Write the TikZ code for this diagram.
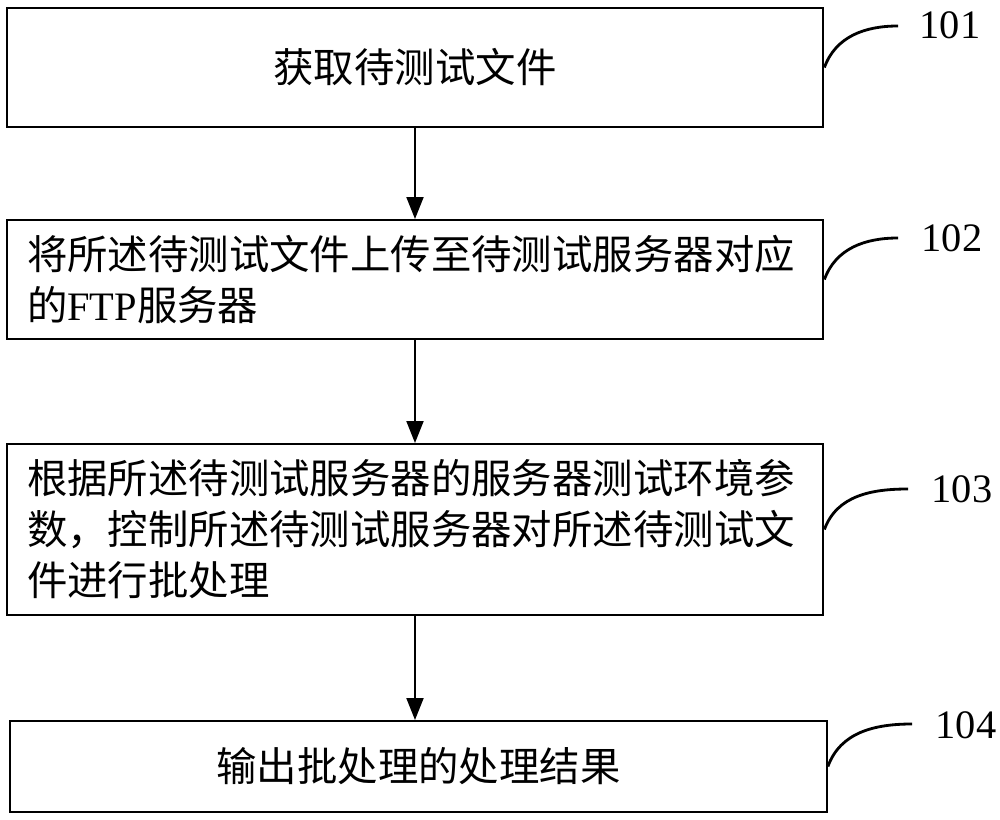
\documentclass[tikz,border=0pt]{standalone}
\usepackage{fontspec}
\setmainfont{Liberation Serif}
\newfontfamily\cjk{Noto Sans CJK SC}
\usetikzlibrary{arrows.meta}

\tikzset{
    stepbox/.style={draw, line width=1.1pt, minimum width=16.34cm, text width=15.52cm,
        inner sep=0pt, font=\fontsize{23}{29}\selectfont\cjk},
    flow/.style={line width=1.1pt, -{Triangle[length=0.44cm, width=0.34cm]}},
    tagline/.style={line width=1.6pt},
    tagnum/.style={font=\fontsize{23}{28}\selectfont},
}

\begin{document}
\begin{tikzpicture}[x=0.02cm, y=-0.02cm]

    \useasboundingbox (0,0) rectangle (1000,820);

    % Steps
    \node[stepbox, align=center, minimum height=2.38cm] (s1) at (415,67.5) {获取待测试文件};

    \node[stepbox, align=left, minimum height=2.38cm] (s2) at (415,279.5)
        {将所述待测试文件上传至待测试服务器对应\\的{\rmfamily FTP}服务器};

    \node[stepbox, align=left, minimum height=3.42cm] (s3) at (415,529.5)
        {根据所述待测试服务器的服务器测试环境参\\数，控制所述待测试服务器对所述待测试文\\件进行批处理};

    \node[stepbox, align=center, minimum height=1.82cm] (s4) at (418.5,766.5) {输出批处理的处理结果};


    \draw[flow] (s1) -- (s2);
    \draw[flow] (s2) -- (s3);
    \draw[flow] (s3.south) -- (s3.south |- s4.north);


    % Step numbers
    \coordinate (c1) at (898,26);
    \coordinate (c2) at (898,238);
    \coordinate (c3) at (908,489);
    \coordinate (c4) at (912,724);

    \node[tagnum] (n1) at (950,25) {101};
    \node[tagnum] (n2) at (952,238) {102};
    \node[tagnum] (n3) at (962,489) {103};
    \node[tagnum] (n4) at (966,725) {104};

    \draw[tagline] (s1.east) to[out=70, in=180] (c1);
    \draw[tagline] (s2.east) to[out=70, in=180] (c2);
    \draw[tagline] (s3.east) to[out=70, in=180] (c3);
    \draw[tagline] (s4.east) to[out=70, in=180] (c4);

\end{tikzpicture}
\end{document}
